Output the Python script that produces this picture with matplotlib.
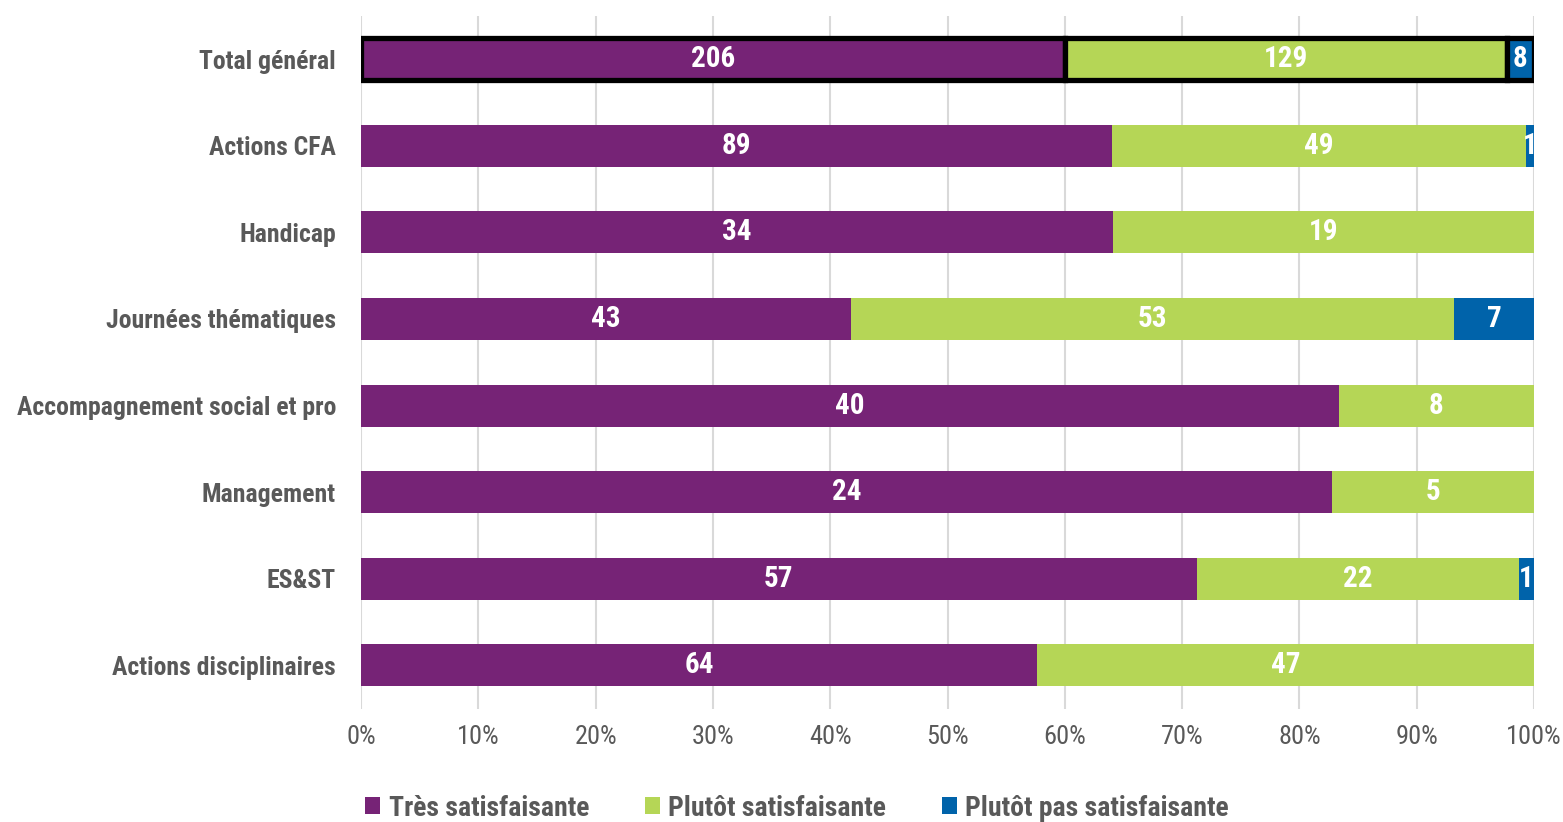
import numpy as np
import matplotlib.pyplot as plt

plt.rcParams['font.family'] = ['Liberation Sans Narrow', 'Roboto Condensed', 'Arial Narrow',
                               'Liberation Sans', 'DejaVu Sans']

categories = ["Total général", "Actions CFA", "Handicap", "Journées thématiques",
              "Accompagnement social et pro", "Management", "ES&ST", "Actions disciplinaires"]
tres = [206, 89, 34, 43, 40, 24, 57, 64]
plutot = [129, 49, 19, 53, 8, 5, 22, 47]
pas = [8, 1, 0, 7, 0, 0, 1, 0]
series_names = ["Très satisfaisante", "Plutôt satisfaisante", "Plutôt pas satisfaisante"]
colors = ["#762376", "#B5D656", "#0063AA"]

counts = np.array([tres, plutot, pas], dtype=float)
shares = counts / counts.sum(axis=0)

fig = plt.figure(figsize=(15.63, 8.22), dpi=100)
ax = fig.add_axes([361/1563, 1-708.5/822, (1534-361)/1563, 692.5/822])

y = np.arange(len(categories))
left = np.zeros(len(categories))
for k in range(3):
    ec = ['black' if i == 0 else 'none' for i in range(len(categories))]
    lw = [3.8 if i == 0 else 0 for i in range(len(categories))]
    ax.barh(y, shares[k], left=left, height=0.485, color=colors[k],
            edgecolor=ec, linewidth=lw, label=series_names[k], zorder=3)
    for i in range(len(categories)):
        if counts[k, i] > 0:
            ax.text(left[i] + shares[k, i] / 2, y[i], f"{int(counts[k, i])}",
                    ha='center', va='center', color='white', fontsize=21,
                    fontweight='bold', zorder=4)
    left += shares[k]

ax.set_ylim(len(categories) - 0.5, -0.5)
ax.set_xlim(0, 1)
ticks = np.arange(0, 1.01, 0.1)
ax.set_xticks(ticks)
ax.set_xticklabels([f"{int(round(v*100))}%" for v in ticks])
ax.set_yticks(y)
ax.set_yticklabels(categories)
ax.tick_params(axis='x', length=0, labelsize=19, labelcolor='#595959', pad=12)
ax.tick_params(axis='y', length=0, labelsize=18.5, labelcolor='#595959', pad=18)
for lab in ax.get_yticklabels():
    lab.set_fontweight('bold')
ax.grid(axis='x', color='#D9D9D9', linewidth=1.5, zorder=0)
for s in ax.spines.values():
    s.set_visible(False)

handles, labels = ax.get_legend_handles_labels()
leg = fig.legend(handles, labels, loc='center', bbox_to_anchor=(0.51, 0.017), ncol=3,
                 frameon=False, handlelength=0.55, handleheight=0.55, columnspacing=2.0,
                 handletextpad=0.3, prop={'size': 20, 'weight': 'bold'})
for t in leg.get_texts():
    t.set_color('#595959')
for h in leg.legend_handles:
    h.set_edgecolor('none')
    h.set_linewidth(0)

fig.savefig("out.png", dpi=100)
